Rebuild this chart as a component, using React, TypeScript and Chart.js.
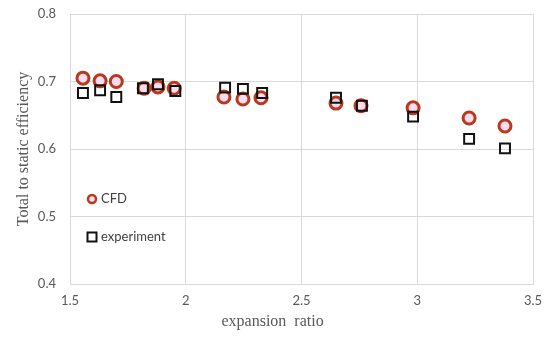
import React, { useEffect, useRef } from "react";
import { Chart, registerables } from "chart.js";

Chart.register(...registerables);

const cfdX = [1.556, 1.63, 1.70, 1.82, 1.88, 1.95, 2.165, 2.247, 2.325, 2.649, 2.757, 2.982, 3.224, 3.379];
const cfdY = [0.705, 0.701, 0.700, 0.690, 0.692, 0.690, 0.677, 0.674, 0.676, 0.668, 0.664, 0.661, 0.646, 0.634];
const expX = [1.556, 1.63, 1.70, 1.815, 1.88, 1.955, 2.17, 2.247, 2.33, 2.649, 2.761, 2.982, 3.224, 3.379];
const expY = [0.683, 0.687, 0.677, 0.690, 0.696, 0.686, 0.691, 0.689, 0.683, 0.676, 0.664, 0.648, 0.615, 0.601];
const legendLabels = ["CFD", "experiment"];
const xTitle = "expansion  ratio";
const yTitle = "Total to static efficiency";

const CIRCLE_COLOR = "#b8391c";
const CIRCLE_FILL = "#f9dcef";
const SQUARE_COLOR = "#111111";
const TITLE_FONT = "16px 'Liberation Serif', 'Times New Roman', serif";

const legendPlugin = {
  id: "inlineLegend",
  afterDraw(chart: any) {
    const ctx = chart.ctx;
    const area = chart.chartArea;
    const x0 = area.left + 22;
    const ys = [area.top + 185, area.top + 223];
    ctx.save();
    ctx.beginPath();
    ctx.fillStyle = CIRCLE_FILL;
    ctx.arc(x0, ys[0], 4, 0, Math.PI * 2);
    ctx.fill();
    ctx.lineWidth = 2.5;
    ctx.strokeStyle = CIRCLE_COLOR;
    ctx.stroke();
    ctx.lineWidth = 2;
    ctx.strokeStyle = SQUARE_COLOR;
    ctx.fillStyle = "#ffffff";
    ctx.fillRect(x0 - 4.5, ys[1] - 4.5, 9, 9);
    ctx.strokeRect(x0 - 4.5, ys[1] - 4.5, 9, 9);
    ctx.fillStyle = "#404040";
    ctx.font = "13px Lato, 'Open Sans', sans-serif";
    ctx.textBaseline = "middle";
    ctx.textAlign = "left";
    ctx.fillText(legendLabels[0], x0 + 9, ys[0]);
    ctx.fillText(legendLabels[1], x0 + 9, ys[1]);
    // x-axis title (offset left of plot centre, as in the reference)
    const xs = chart.scales.x;
    ctx.font = TITLE_FONT;
    ctx.fillStyle = "#595959";
    ctx.textAlign = "center";
    ctx.fillText(xTitle, xs.getPixelForValue(2.375), area.bottom + 38);
    ctx.restore();
  },
};

export default function App() {
  const ref = useRef<HTMLCanvasElement>(null);
  useEffect(() => {
    if (!ref.current) return;
    const chart = new Chart(ref.current, {
      type: "scatter",
      data: {
        datasets: [
          {
            label: legendLabels[0],
            data: cfdX.map((x, i) => ({ x, y: cfdY[i] })),
            pointStyle: "circle",
            pointRadius: 6,
            pointBorderWidth: 3,
            borderColor: CIRCLE_COLOR,
            backgroundColor: CIRCLE_FILL,
            order: 2,
          },
          {
            label: legendLabels[1],
            data: expX.map((x, i) => ({ x, y: expY[i] })),
            pointStyle: "rect",
            pointRadius: 7,
            pointBorderWidth: 2,
            borderColor: SQUARE_COLOR,
            backgroundColor: "rgba(255,255,255,0)",
            order: 1,
          },
        ],
      },
      options: {
        animation: false,
        responsive: false,
        maintainAspectRatio: false,
        layout: { padding: { left: 0, top: 14, right: 17, bottom: 0 } },
        plugins: { legend: { display: false }, tooltip: { enabled: false } },
        scales: {
          x: {
            type: "linear",
            min: 1.5,
            max: 3.5,
            ticks: {
              stepSize: 0.5,
              color: "#595959",
              font: { family: "Lato, 'Open Sans', sans-serif", size: 13 },
              padding: 9,
              callback: (v: any) => String(Number(v)),
            },
            grid: { color: "#d9d9d9", drawTicks: false },
            border: { color: "#d9d9d9" },
            title: { display: false },
            afterFit: (s: any) => {
              s.height = 55;
              s.paddingLeft = 0;
              s.paddingRight = 0;
            },
          },
          y: {
            type: "linear",
            min: 0.4,
            max: 0.8,
            ticks: {
              stepSize: 0.1,
              color: "#595959",
              font: { family: "Lato, 'Open Sans', sans-serif", size: 13 },
              padding: 14,
              callback: (v: any) => Number(v).toFixed(1),
            },
            grid: { color: "#d9d9d9", drawTicks: false },
            border: { color: "#d9d9d9" },
            title: {
              display: true,
              text: yTitle,
              color: "#595959",
              font: { family: "'Liberation Serif', 'Times New Roman', serif", size: 16 },
              padding: { top: 14, bottom: 0 },
            },
            afterFit: (s: any) => {
              s.width = 70;
              s.paddingTop = 0;
              s.paddingBottom = 0;
            },
          },
        },
      },
      plugins: [legendPlugin],
    });
    return () => chart.destroy();
  }, []);
  return (
    <div style={{ position: "fixed", left: 0, top: 0, width: 550, height: 339, background: "#fff" }}>
      <canvas ref={ref} width={550} height={339} style={{ width: 550, height: 339 }} />
    </div>
  );
}
